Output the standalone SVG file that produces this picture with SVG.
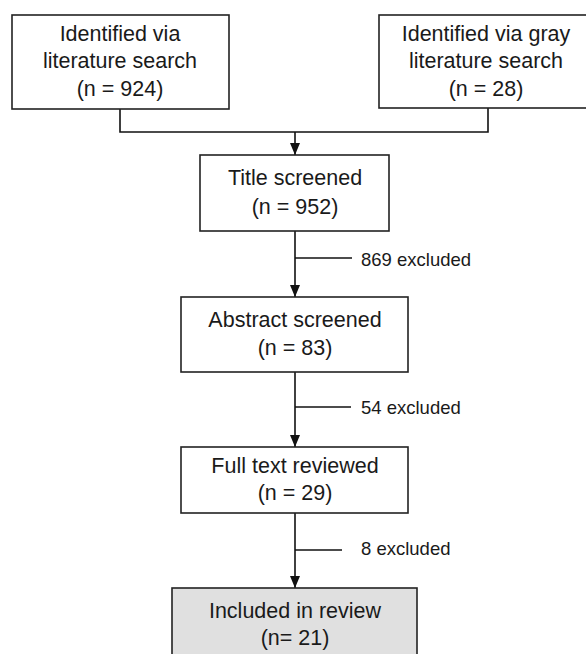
<svg xmlns="http://www.w3.org/2000/svg" width="586" height="654" viewBox="0 0 586 654">
<defs>
<marker id="arr" markerWidth="12" markerHeight="10" refX="12" refY="5" orient="auto" markerUnits="userSpaceOnUse" viewBox="0 0 12 10">
<path d="M0,0 L12,5 L0,10 Z" fill="#111"/>
</marker>
</defs>
<style>
.box{fill:#fff;stroke:#222;stroke-width:1.6}
.inc{fill:#e0e0e0;stroke:#222;stroke-width:1.6}
.t{font-family:"Liberation Sans",Arial,Helvetica,sans-serif;font-size:21.5px;fill:#1a1a1a;text-anchor:middle}
.l{font-family:"Liberation Sans",Arial,Helvetica,sans-serif;font-size:18.5px;fill:#1a1a1a}
.c{fill:none;stroke:#111;stroke-width:1.6}
</style>
<rect width="586" height="654" fill="#fff"/>
<g id="connectors">
<path class="c" d="M120,109 V132 H488 V108"/>
<path class="c" d="M295,132 V155" marker-end="url(#arr)"/>
<path class="c" d="M295,231 V297" marker-end="url(#arr)"/>
<path class="c" d="M295,258 H352"/>
<path class="c" d="M295,372 V447" marker-end="url(#arr)"/>
<path class="c" d="M295,407 H351"/>
<path class="c" d="M295,513 V588" marker-end="url(#arr)"/>
<path class="c" d="M295,550 H342"/>
<text class="l" x="361" y="266">869 excluded</text>
<text class="l" x="361" y="414">54 excluded</text>
<text class="l" x="361" y="555">8 excluded</text>
</g>
<g id="lit">
<rect class="box" x="12" y="15" width="217" height="94"/>
<text class="t" x="120" y="41">Identified via</text>
<text class="t" x="120" y="68">literature search</text>
<text class="t" x="120" y="96">(n = 924)</text>
</g>
<g id="gray">
<rect class="box" x="379" y="15" width="210" height="93"/>
<text class="t" x="486" y="41">Identified via gray</text>
<text class="t" x="486" y="68">literature search</text>
<text class="t" x="486" y="96">(n = 28)</text>
</g>
<g id="title">
<rect class="box" x="200" y="155" width="189" height="76"/>
<text class="t" x="295" y="185">Title screened</text>
<text class="t" x="295" y="214">(n = 952)</text>
</g>
<g id="abstract">
<rect class="box" x="181" y="297" width="227" height="75"/>
<text class="t" x="295" y="327">Abstract screened</text>
<text class="t" x="295" y="355">(n = 83)</text>
</g>
<g id="fulltext">
<rect class="box" x="181" y="447" width="227" height="66"/>
<text class="t" x="295" y="473">Full text reviewed</text>
<text class="t" x="295" y="500">(n = 29)</text>
</g>
<g id="included">
<rect class="inc" x="172" y="588" width="245" height="80"/>
<text class="t" x="295" y="618">Included in review</text>
<text class="t" x="295" y="645">(n= 21)</text>
</g>
</svg>
